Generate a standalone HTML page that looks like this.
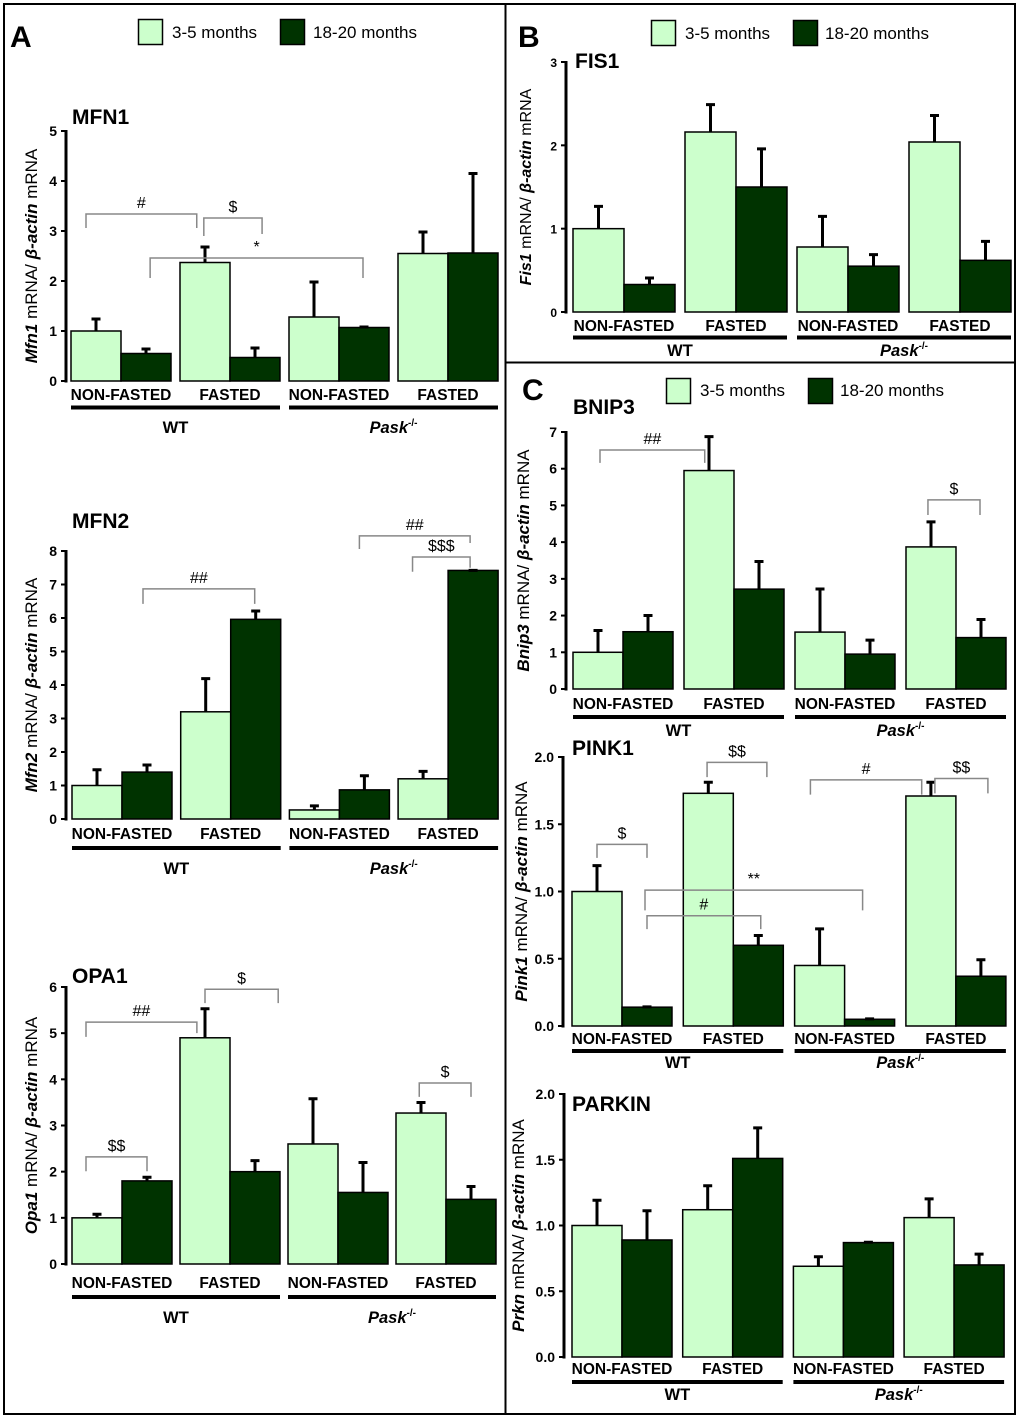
<!DOCTYPE html>
<html><head><meta charset="utf-8"><style>
html,body{margin:0;padding:0;background:#fff}
svg{display:block;font-family:"Liberation Sans",Arial,sans-serif}
</style></head><body>
<svg id="fig" width="1020" height="1419" viewBox="0 0 1020 1419" xmlns="http://www.w3.org/2000/svg">
<rect x="4" y="4" width="1011" height="1410" fill="none" stroke="#000" stroke-width="2"/>
<line x1="505.5" y1="4" x2="505.5" y2="1414" stroke="#000" stroke-width="2"/>
<line x1="505" y1="362.5" x2="1015" y2="362.5" stroke="#000" stroke-width="2"/>
<text x="10" y="47" font-size="30" font-weight="bold">A</text>
<text x="518" y="47" font-size="30" font-weight="bold">B</text>
<text x="522" y="400" font-size="30" font-weight="bold">C</text>
<g>
<rect x="138.5" y="19.5" width="24" height="25" fill="#ccffcc" stroke="#000" stroke-width="1.5"/>
<text x="172" y="38" font-size="17">3-5 months</text>
<rect x="280.5" y="19.5" width="24" height="25" fill="#003300" stroke="#000" stroke-width="1.5"/>
<text x="313" y="38" font-size="17">18-20 months</text>
</g>
<g>
<rect x="651.5" y="20.5" width="24" height="25" fill="#ccffcc" stroke="#000" stroke-width="1.5"/>
<text x="685" y="39" font-size="17">3-5 months</text>
<rect x="793.5" y="20.5" width="24" height="25" fill="#003300" stroke="#000" stroke-width="1.5"/>
<text x="825" y="39" font-size="17">18-20 months</text>
</g>
<g>
<rect x="666.5" y="378.5" width="24" height="25" fill="#ccffcc" stroke="#000" stroke-width="1.5"/>
<text x="700" y="396" font-size="17">3-5 months</text>
<rect x="808.5" y="378.5" width="24" height="25" fill="#003300" stroke="#000" stroke-width="1.5"/>
<text x="840" y="396" font-size="17">18-20 months</text>
</g>
</svg>
<script>
// ---- data ----
const groupLabels = ["NON-FASTED","FASTED","NON-FASTED","FASTED"];
const genotypeLabels = ["WT","Pask"];

const mfn1Ticks = [0,1,2,3,4,5];
const mfn1TickLabels = ["0","1","2","3","4","5"];
const mfn1Young = [1.0, 2.37, 1.28, 2.55];
const mfn1YoungErr = [0.26, 0.33, 0.72, 0.45];
const mfn1Old = [0.55, 0.47, 1.07, 2.56];
const mfn1OldErr = [0.11, 0.21, 0.03, 1.61];
const mfn1Brackets = [[-0.2,1.86,3.34,3.06,3.06,"#"],[1.98,3.12,3.26,2.9,2.94,"$"],[1.07,4.98,2.46,2.06,2.06,"*"]];

const mfn2Ticks = [0,1,2,3,4,5,6,7,8];
const mfn2TickLabels = ["0","1","2","3","4","5","6","7","8"];
const mfn2Young = [1.0, 3.2, 0.27, 1.2];
const mfn2YoungErr = [0.5, 1.02, 0.15, 0.25];
const mfn2Old = [1.4, 5.96, 0.87, 7.42];
const mfn2OldErr = [0.24, 0.28, 0.45, 0.03];
const mfn2Brackets = [[0.92,2.98,6.87,6.42,6.42,"##"],[4.9,6.94,8.45,8.06,8.24,"##"],[5.82,6.94,7.82,7.38,7.5,"$$$"]];

const opa1Ticks = [0,1,2,3,4,5,6];
const opa1TickLabels = ["0","1","2","3","4","5","6"];
const opa1Young = [1.0, 4.9, 2.6, 3.27];
const opa1YoungErr = [0.1, 0.65, 1.0, 0.25];
const opa1Old = [1.8, 2.0, 1.55, 1.4];
const opa1OldErr = [0.1, 0.26, 0.67, 0.3];
const opa1Brackets = [[-0.22,1.0,2.32,2.01,2.01,"$$"],[-0.22,1.86,5.24,4.92,5.0,"##"],[2.0,3.4,5.95,5.65,5.65,"$"],[5.97,7.0,3.92,3.62,3.62,"$"]];

const fis1Ticks = [0,1,2,3];
const fis1TickLabels = ["0","1","2","3"];
const fis1Young = [1.0, 2.16, 0.78, 2.04];
const fis1YoungErr = [0.28, 0.34, 0.38, 0.33];
const fis1Old = [0.33, 1.5, 0.55, 0.62];
const fis1OldErr = [0.09, 0.47, 0.15, 0.24];
const fis1Brackets = [];

const bnip3Ticks = [0,1,2,3,4,5,6,7];
const bnip3TickLabels = ["0","1","2","3","4","5","6","7"];
const bnip3Young = [1.0, 5.95, 1.55, 3.87];
const bnip3YoungErr = [0.62, 0.95, 1.2, 0.71];
const bnip3Old = [1.56, 2.72, 0.95, 1.4];
const bnip3OldErr = [0.47, 0.78, 0.41, 0.52];
const bnip3Brackets = [[0.04,1.93,6.51,6.16,6.16,"##"],[5.95,6.98,5.15,4.74,4.74,"$"]];

const pink1Ticks = [0,0.5,1,1.5,2];
const pink1TickLabels = ["0.0","0.5","1.0","1.5","2.0"];
const pink1Young = [1.0, 1.73, 0.45, 1.71];
const pink1YoungErr = [0.2, 0.09, 0.28, 0.11];
const pink1Old = [0.14, 0.6, 0.05, 0.37];
const pink1OldErr = [0.01, 0.08, 0.01, 0.13];
const pink1Brackets = [[0,1.0,1.35,1.25,1.25,"$"],[1.98,3.14,1.96,1.85,1.85,"$$"],[3.85,5.85,1.83,1.72,1.72,"#"],[6.08,7.14,1.84,1.73,1.73,"$$"],[0.96,4.86,1.01,0.86,0.86,"**"],[1.0,3.04,0.82,0.72,0.72,"#"]];

const parkinTicks = [0,0.5,1,1.5,2];
const parkinTickLabels = ["0.0","0.5","1.0","1.5","2.0"];
const parkinYoung = [1.0, 1.12, 0.69, 1.06];
const parkinYoungErr = [0.2, 0.19, 0.08, 0.15];
const parkinOld = [0.89, 1.51, 0.87, 0.7];
const parkinOldErr = [0.23, 0.24, 0.01, 0.09];
const parkinBrackets = [];

// ---- drawing ----
const NS = "http://www.w3.org/2000/svg";
const svg = document.getElementById("fig");
function mk(tag, attrs, parent){
  const e = document.createElementNS(NS, tag);
  for (const k in attrs) e.setAttribute(k, attrs[k]);
  (parent||svg).appendChild(e);
  return e;
}

function panel(p, ticks, tickLabels, young, youngErr, old, oldErr, brackets){
  const g = mk("g", {});
  
  
  const y = v => p.y0 - v * (p.y0 - p.yTop) / p.yMax;
  const center = i => p.gx + Math.floor(i/2)*p.gs + (i%2)*p.bw + p.bw/2;
  const xAt = f => {
    if (f < 0) return center(0) + f*p.bw;
    if (f >= 7) return center(7) + (f-7)*p.bw;
    const i = Math.floor(f);
    return center(i) + (f-i)*(center(i+1)-center(i));
  };
  const t = mk("text", {x:p.tx, y:p.ty, "font-size":21, "font-weight":"bold"}, g);
  t.textContent = p.title;
  
  
  const yl = mk("text", {x:0, y:0, "font-size":p.ylf || 17, "text-anchor":"middle", transform:`translate(${p.ylx},${(p.y0+p.yTop)/2}) rotate(-90)`}, g);
  
  
  const s1 = mk("tspan", {"font-style":"italic","font-weight":"bold"}, yl); s1.textContent = p.gene;
  const s2 = mk("tspan", {}, yl); s2.textContent = " mRNA/ ";
  const s3 = mk("tspan", {"font-style":"italic","font-weight":"bold"}, yl); s3.textContent = "\u03B2-actin";
  const s4 = mk("tspan", {}, yl); s4.textContent = " mRNA";
  for (let k = 0; k < 4; k++){
    const series = [[young, youngErr, "#ccffcc", "young"], [old, oldErr, "#003300", "old"]];
    series.forEach((s, j) => {
      const i = k*2 + j;
      const x0 = center(i) - p.bw/2;
      const v = s[0][k], e = s[1][k];
      const r = mk("rect", {x:x0, y:y(v), width:p.bw, height:p.y0 - y(v), fill:s[2], stroke:"#000", "stroke-width":1.5}, g);
      
      
      const el = mk("path", {d:`M${center(i)} ${y(v)}V${y(v+e)}M${center(i)-4.5} ${y(v+e)+1}H${center(i)+4.5}`, stroke:"#000", "stroke-width":3, fill:"none"}, g);
      
      
    });
  }
  const ax = mk("line", {x1:p.ax, y1:y(p.yMax)-1, x2:p.ax, y2:p.y0+1.5, stroke:"#000", "stroke-width":3}, g);
  
  
  ticks.forEach((tv, i) => {
    const tk = mk("line", {x1:p.ax-5, y1:y(tv), x2:p.ax, y2:y(tv), stroke:"#000", "stroke-width":2}, g);
    
    
    const tl = mk("text", {x:p.ax-9, y:y(tv)+5, "font-size":p.tf || 14, "font-weight":"bold", "text-anchor":"end"}, g);
    tl.textContent = tickLabels[i];
    
    
  });
  for (let k = 0; k < 4; k++){
    const cx = (center(k*2) + center(k*2+1))/2;
    const c = mk("text", {x:cx, y:p.ly, "font-size":15.5, "font-weight":"bold", "text-anchor":"middle"}, g);
    c.textContent = groupLabels[k];
    
    
  }
  for (let h = 0; h < 2; h++){
    const xa = center(h*4) - p.bw/2, xb = center(h*4+3) + p.bw/2;
    const u = mk("line", {x1:xa, y1:p.uy, x2:xb, y2:p.uy, stroke:"#000", "stroke-width":4}, g);
    
    
    const gt = mk("text", {x:(xa+xb)/2, y:p.gy, "font-size":16.5, "font-weight":"bold", "text-anchor":"middle"}, g);
    
    
    if (h === 0) gt.textContent = genotypeLabels[0];
    else {
      const a = mk("tspan", {"font-style":"italic"}, gt); a.textContent = genotypeLabels[1];
      const b = mk("tspan", {"font-size":10, dy:-7}, gt); b.textContent = "-/-";
    }
  }
  brackets.forEach(b => {
    const xa = xAt(b[0]), xb = xAt(b[1]);
    const br = mk("path", {d:`M${xa} ${y(b[3])}V${y(b[2])}H${xb}V${y(b[4])}`, stroke:"#888", "stroke-width":1.5, fill:"none"}, g);
    
    
    const bl = mk("text", {x:(xa+xb)/2, y:y(b[2])-6, "font-size":16, "text-anchor":"middle"}, g);
    bl.textContent = b[5];
    
    
  });
}

panel({name:"mfn1", title:"MFN1", gene:"Mfn1", ax:66, y0:381, yTop:131, yMax:5, gx:71, gs:109, bw:50, ly:400, uy:407.5, gy:433, tx:72, ty:124, ylx:37},
  mfn1Ticks, mfn1TickLabels, mfn1Young, mfn1YoungErr, mfn1Old, mfn1OldErr, mfn1Brackets);
panel({name:"mfn2", title:"MFN2", gene:"Mfn2", ax:66, y0:819, yTop:551, yMax:8, gx:72, gs:108.7, bw:50, ly:839, uy:848, gy:874, tx:72, ty:528, ylx:37},
  mfn2Ticks, mfn2TickLabels, mfn2Young, mfn2YoungErr, mfn2Old, mfn2OldErr, mfn2Brackets);
panel({name:"opa1", title:"OPA1", gene:"Opa1", ax:66, y0:1264, yTop:987, yMax:6, gx:72, gs:108, bw:50, ly:1288, uy:1297, gy:1323, tx:72, ty:983, ylx:37},
  opa1Ticks, opa1TickLabels, opa1Young, opa1YoungErr, opa1Old, opa1OldErr, opa1Brackets);
panel({name:"fis1", title:"FIS1", gene:"Fis1", ax:566, y0:312, yTop:62, yMax:3, gx:573, gs:112, bw:51, ly:331, uy:337.5, gy:356, tx:575, ty:68, ylx:531, tf:12, ylf:16},
  fis1Ticks, fis1TickLabels, fis1Young, fis1YoungErr, fis1Old, fis1OldErr, fis1Brackets);
panel({name:"bnip3", title:"BNIP3", gene:"Bnip3", ax:566, y0:689, yTop:432, yMax:7, gx:573, gs:111, bw:50, ly:709, uy:717, gy:736, tx:573, ty:414, ylx:529},
  bnip3Ticks, bnip3TickLabels, bnip3Young, bnip3YoungErr, bnip3Old, bnip3OldErr, bnip3Brackets);
panel({name:"pink1", title:"PINK1", gene:"Pink1", ax:563, y0:1026, yTop:757, yMax:2, gx:572, gs:111.3, bw:50, ly:1044, uy:1051, gy:1068, tx:572, ty:755, ylx:527},
  pink1Ticks, pink1TickLabels, pink1Young, pink1YoungErr, pink1Old, pink1OldErr, pink1Brackets);
panel({name:"parkin", title:"PARKIN", gene:"Prkn", ax:564, y0:1357, yTop:1094, yMax:2, gx:572, gs:110.7, bw:50, ly:1374, uy:1382, gy:1400, tx:572, ty:1111, ylx:524},
  parkinTicks, parkinTickLabels, parkinYoung, parkinYoungErr, parkinOld, parkinOldErr, parkinBrackets);
</script>
</body></html>
